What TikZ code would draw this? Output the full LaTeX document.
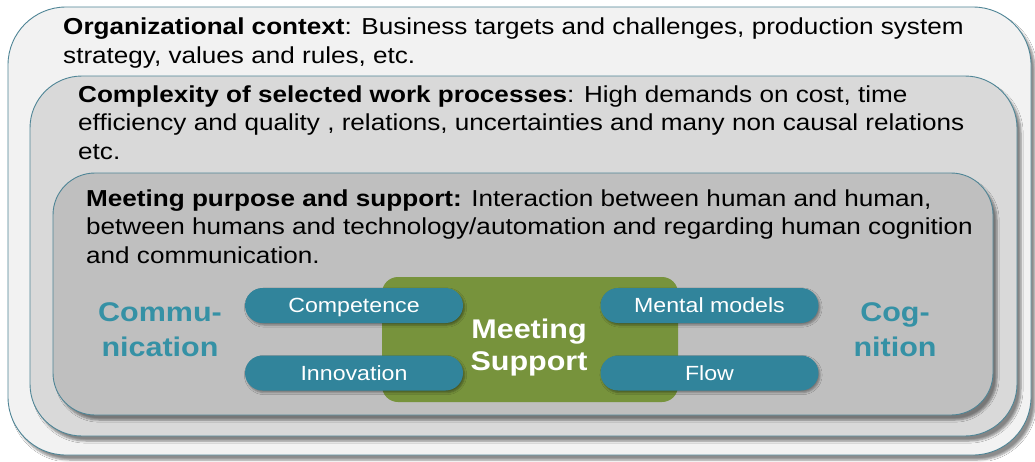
\documentclass[tikz,border=0pt]{standalone}
\usepackage{fontspec}
\setmainfont[FakeStretch=1.13]{Liberation Sans}
\usetikzlibrary{shadows.blur}
\definecolor{bordc}{HTML}{4F8596}
\definecolor{fillA}{HTML}{F2F2F2}
\definecolor{fillB}{HTML}{D9D9D9}
\definecolor{fillC}{HTML}{BFBFBF}
\definecolor{greenc}{HTML}{77933C}
\definecolor{pillc}{HTML}{31849B}
\definecolor{sidec}{HTML}{3591A5}
\begin{document}
\begin{tikzpicture}[x=1pt,y=-1pt,
  layer/.style={draw=bordc, line width=0.9pt,
    blur shadow={shadow xshift=4pt, shadow yshift=-5pt, shadow blur steps=6, shadow opacity=45}},
  bodytxt/.style={anchor=base west, inner sep=0pt, align=left,
    font=\fontsize{23.1}{28.5}\selectfont, text=black},
  pill/.style={fill=pillc, rounded corners=17.5pt, minimum width=218pt, minimum height=35pt,
    inner sep=0pt, text=white, font=\fontsize{20.5}{24}\selectfont,
    text height=14.6pt, text depth=0pt,
    blur shadow={shadow xshift=1.5pt, shadow yshift=-2pt, shadow blur steps=4, shadow opacity=40}},
  sidetxt/.style={align=center, inner sep=0pt, text=sidec,
    font=\fontsize{27}{35}\selectfont\bfseries},
  gbox/.style={fill=greenc, rounded corners=16pt, minimum width=296pt, minimum height=125pt, inner sep=0pt},
  gtxt/.style={align=center, inner sep=0pt, text=white, font=\fontsize{27}{32}\selectfont\bfseries}
]
\useasboundingbox (0,0) rectangle (1035,461);
\fill[white] (0,0) rectangle (1035,461);

% layers
\path[layer, fill=fillA, rounded corners=58pt] (8,7) rectangle (1031,455);
\path[layer, fill=fillB, rounded corners=52pt] (30,76) rectangle (1017,436);
\path[layer, fill=fillC, rounded corners=42pt] (53,173) rectangle (993,415);

% texts of layers (base anchor = baseline of last line)
\node[bodytxt] (orgtxt) at (63,63) {\textbf{Organizational context}: Business targets and challenges, production system\\strategy, values and rules, etc.};
\node[bodytxt] (cpxtxt) at (78,159) {\textbf{Complexity of selected work processes}: High demands on cost, time\\efficiency and quality , relations, uncertainties and many non causal relations\\etc.};
\node[bodytxt] (mtgtxt) at (86,263) {\textbf{Meeting purpose and support:} Interaction between human and human,\\between humans and technology/automation and regarding human cognition\\and communication.};

% green support box
\node[gbox] (ms) at (530,339.5) {};
\node[gtxt] (mstxt) at (529,348) {Meeting\\Support};

% pills
\node[pill] (comp) at (354,305.5) {Competence};
\node[pill] (innov) at (354,373) {Innovation};
\node[pill] (mental) at (709.5,305.5) {Mental models};
\node[pill] (flow) at (709.5,373) {Flow};

% side labels
\node[sidetxt] (comm) at (160,330) {Commu-\\nication};
\node[sidetxt] (cogn) at (895,330) {Cog-\\nition};
\end{tikzpicture}
\end{document}
